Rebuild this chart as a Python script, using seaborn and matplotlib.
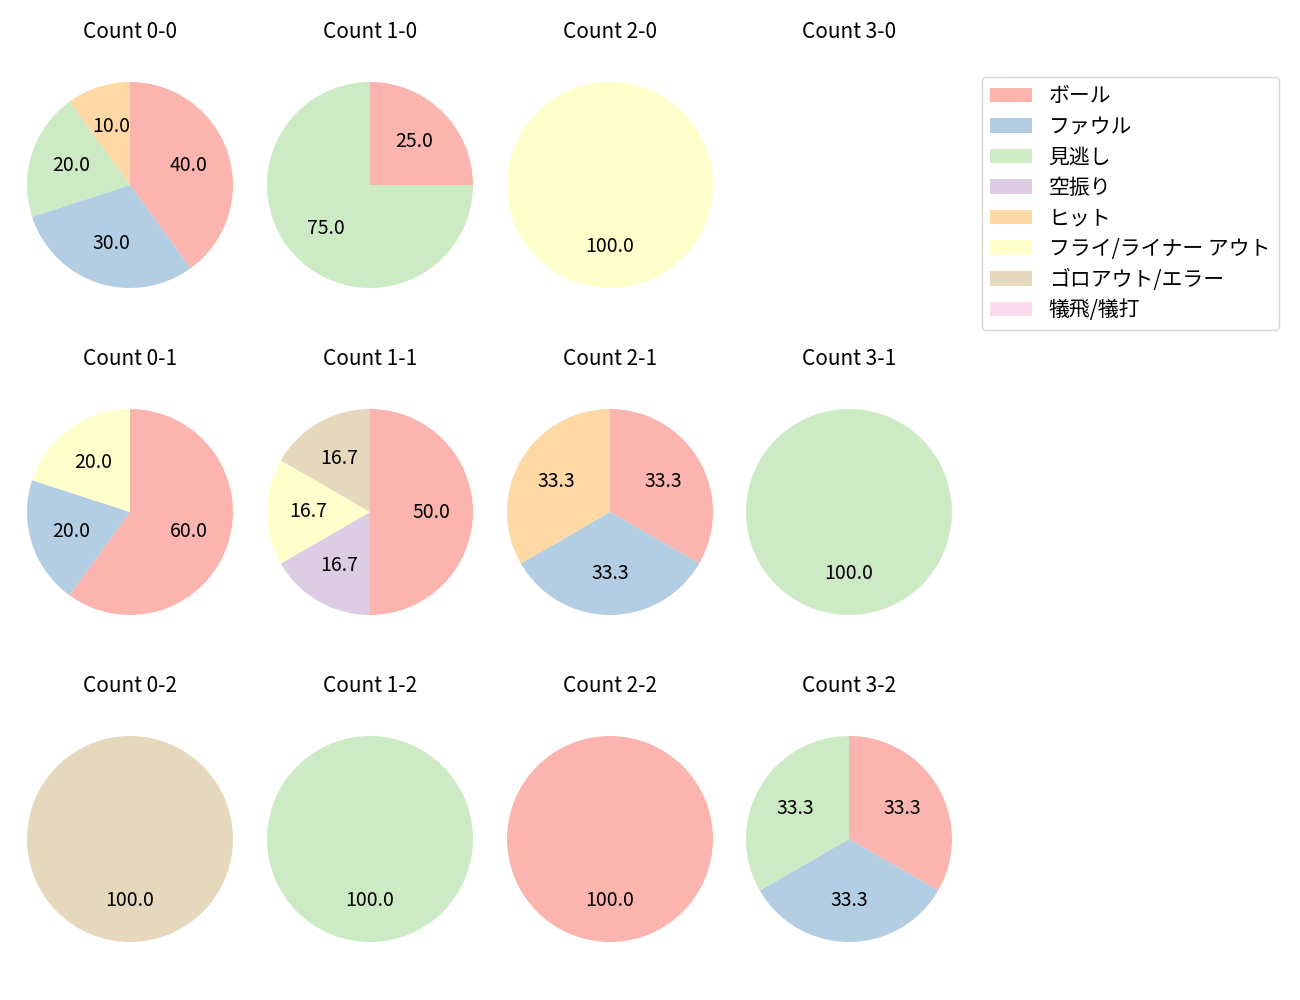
import matplotlib
matplotlib.use("Agg")
import matplotlib.pyplot as plt
from matplotlib.patches import Patch
import seaborn as sns

plt.rcParams['font.family'] = ['Noto Sans CJK JP', 'DejaVu Sans']

categories = ["ボール", "ファウル", "見逃し", "空振り", "ヒット",
              "フライ/ライナー アウト", "ゴロアウト/エラー", "犠飛/犠打"]

count_labels = ["0-0", "1-0", "2-0", "3-0",
                "0-1", "1-1", "2-1", "3-1",
                "0-2", "1-2", "2-2", "3-2"]

# counts per category, in the order of `categories`
c_0_0 = [4, 3, 2, 0, 1, 0, 0, 0]
c_1_0 = [1, 0, 3, 0, 0, 0, 0, 0]
c_2_0 = [0, 0, 0, 0, 0, 1, 0, 0]
c_3_0 = [0, 0, 0, 0, 0, 0, 0, 0]
c_0_1 = [3, 1, 0, 0, 0, 1, 0, 0]
c_1_1 = [3, 0, 0, 1, 0, 1, 1, 0]
c_2_1 = [1, 1, 0, 0, 1, 0, 0, 0]
c_3_1 = [0, 0, 1, 0, 0, 0, 0, 0]
c_0_2 = [0, 0, 0, 0, 0, 0, 1, 0]
c_1_2 = [0, 0, 1, 0, 0, 0, 0, 0]
c_2_2 = [1, 0, 0, 0, 0, 0, 0, 0]
c_3_2 = [1, 1, 1, 0, 0, 0, 0, 0]

all_counts = [c_0_0, c_1_0, c_2_0, c_3_0,
              c_0_1, c_1_1, c_2_1, c_3_1,
              c_0_2, c_1_2, c_2_2, c_3_2]

colors = sns.color_palette("Pastel1", len(categories))

W, H = 1300, 1000
fig = plt.figure(figsize=(13, 10), dpi=100)

col_cx = [130, 370, 610, 849]
row_cy = [185, 512, 839]
radius = 103
side = 2.5 * radius

for idx, (lab, vals) in enumerate(zip(count_labels, all_counts)):
    r, c = divmod(idx, 4)
    cx, cy = col_cx[c], row_cy[r]
    ax = fig.add_axes([(cx - side / 2) / W, 1 - (cy + side / 2) / H, side / W, side / H])
    v = [x for x in vals if x > 0]
    cols = [colors[i] for i, x in enumerate(vals) if x > 0]
    if v:
        ax.pie(v, colors=cols, startangle=90, counterclock=False,
               autopct='%.1f', textprops={'fontsize': 14})
    ax.set_xlim(-1.25, 1.25)
    ax.set_ylim(-1.25, 1.25)
    ax.set_aspect('equal')
    ax.axis('off')
    ax.set_title(f"Count {lab}", fontsize=15, pad=13.5)

handles = [Patch(facecolor=colors[i], label=categories[i]) for i in range(len(categories))]
fig.legend(handles=handles, loc='upper left', bbox_to_anchor=(982 / W, 1 - 77 / H),
           borderaxespad=0, fontsize=15, labelspacing=0.41, frameon=True)

fig.savefig("out.png", dpi=100)
